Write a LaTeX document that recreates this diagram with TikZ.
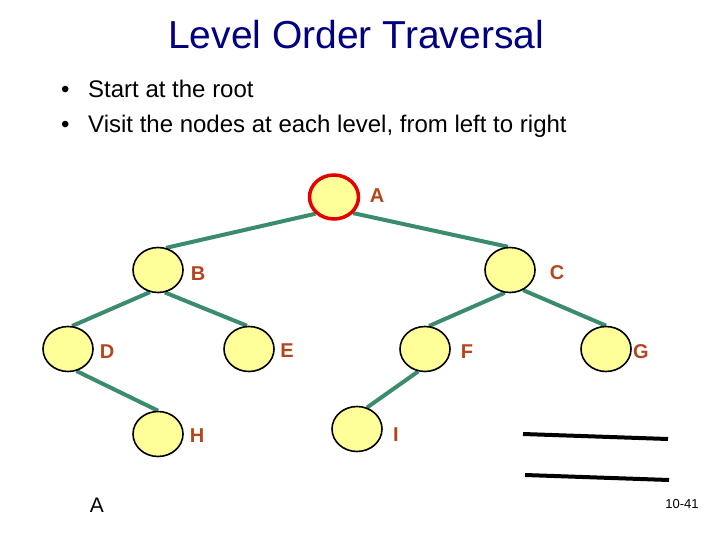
\documentclass[tikz,border=0pt]{standalone}
\usepackage{fontspec}
\setmainfont{Liberation Sans}
\usetikzlibrary{positioning,shapes.geometric,backgrounds}
\definecolor{titleblue}{RGB}{0,0,128}
\definecolor{lblred}{RGB}{180,70,30}
\definecolor{edgegreen}{RGB}{58,140,108}
\definecolor{nodeyellow}{RGB}{255,255,153}
\tikzset{
  vertex/.style={ellipse,draw=black,line width=1.6pt,fill=nodeyellow,
    minimum width=50pt,minimum height=45pt,inner sep=0pt},
  root/.style={vertex,draw=red!90!black,line width=3.5pt,
    minimum width=49pt,minimum height=44pt},
  edge/.style={draw=edgegreen,line width=4pt},
  lbl/.style={text=lblred,font=\bfseries\fontsize{20}{24}\selectfont,inner sep=0pt},
  bullet/.style={anchor=base west,font=\fontsize{24}{29}\selectfont,inner sep=0pt}
}

\begin{document}
\begin{tikzpicture}[x=1pt,y=-1pt]
\useasboundingbox (0,0) rectangle (720,540);
\node[anchor=base west,text=titleblue,font=\fontsize{39}{47}\selectfont,inner sep=0pt] (title) at (168,49) {Level Order Traversal};
\node[bullet] (b1) at (61,98) {•};
\node[bullet] (t1) at (88,98) {Start at the root};
\node[bullet] (b2) at (61,133) {•};
\node[bullet] (t2) at (88,133) {Visit the nodes at each level, from left to right};
% tree
\node[root] (A) at (334,197) {};
\node[vertex] (B) at (158,270) {};
\node[vertex] (C) at (510,270) {};
\node[vertex] (D) at (68,349) {};
\node[vertex] (E) at (249,349) {};
\node[vertex] (F) at (425,349) {};
\node[vertex] (G) at (606,349) {};
\node[vertex] (H) at (158,434) {};
\node[vertex] (I) at (357,429) {};
\begin{scope}[on background layer]
\foreach \p/\c/\a/\b in {A/B/-138/70,A/C/-40/95,B/D/-110/80,B/E/-73/95,
  C/F/-103/80,C/G/-57/90,D/H/-69/90,F/I/-107/65}
  \draw[edge] (\p.\a) -- (\c.\b);
\end{scope}
\node[lbl] (lA) at (377,196) {A};
\node[lbl] (lB) at (198,274) {B};
\node[lbl] (lC) at (557,273) {C};
\node[lbl] (lD) at (107,352) {D};
\node[lbl] (lE) at (287,351) {E};
\node[lbl] (lF) at (467,352) {F};
\node[lbl] (lG) at (641,352) {G};
\node[lbl] (lH) at (197,436) {H};
\node[lbl] (lI) at (396,435) {I};
% answer lines
\coordinate (u1) at (523,434);
\coordinate (u2) at (668,439);
\coordinate (v1) at (525,475);
\coordinate (v2) at (669,480);
\draw[line width=4pt] (u1) -- (u2);
\draw[line width=4pt] (v1) -- (v2);
\node[font=\fontsize{21}{25}\selectfont,inner sep=0pt] (ans) at (97,505) {A};
\node[font=\fontsize{13}{16}\selectfont,inner sep=0pt] (pg) at (682,504) {10-41};
\end{tikzpicture}
\end{document}
